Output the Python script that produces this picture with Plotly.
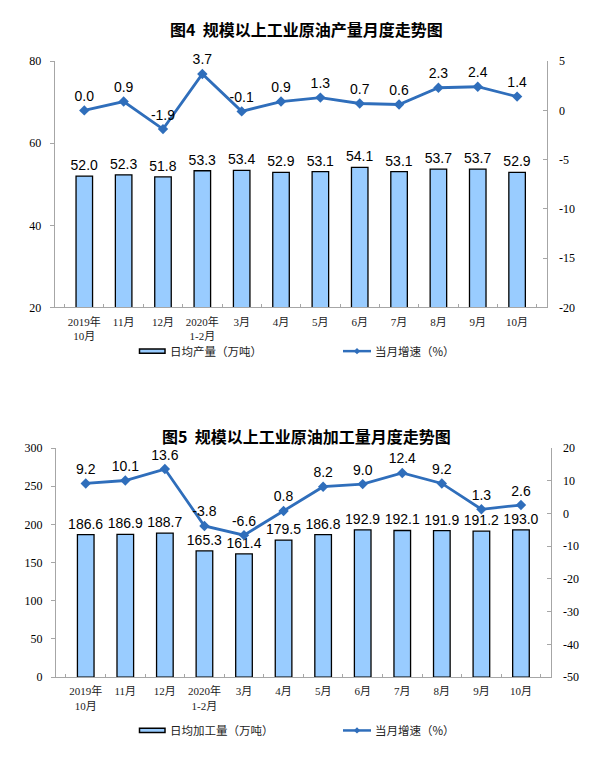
import plotly.graph_objects as go

# ---------------- data ----------------
categories = ["2019年<br>10月", "11月", "12月", "2020年<br>1-2月", "3月", "4月",
              "5月", "6月", "7月", "8月", "9月", "10月"]

crude_output = [52.0, 52.3, 51.8, 53.3, 53.4, 52.9, 53.1, 54.1, 53.1, 53.7, 53.7, 52.9]
crude_output_growth = [0.0, 0.9, -1.9, 3.7, -0.1, 0.9, 1.3, 0.7, 0.6, 2.3, 2.4, 1.4]

crude_processing = [186.6, 186.9, 188.7, 165.3, 161.4, 179.5, 186.8, 192.9, 192.1, 191.9, 191.2, 193.0]
crude_processing_growth = [9.2, 10.1, 13.6, -3.8, -6.6, 0.8, 8.2, 9.0, 12.4, 9.2, 1.3, 2.6]

left1_ticks = [20, 40, 60, 80]
right1_ticks = [-20, -15, -10, -5, 0, 5]
right1_labels = ["-20", "-15", "-10", "-5", "0", "5"]
left2_ticks = [0, 50, 100, 150, 200, 250, 300]
right2_ticks = [-50, -40, -30, -20, -10, 0, 10, 20]
right2_labels = ["-50", "-40", "-30", "-20", "-10", "0", "10", "20"]

titles = ["图4  规模以上工业原油产量月度走势图", "图5  规模以上工业原油加工量月度走势图"]
legend_bar = ["日均产量（万吨）", "日均加工量（万吨）"]
legend_line = "当月增速（%）"

# ---------------- style ----------------
# page body has an 8px default margin; compensate so the figure fills the window
OFF = 8
W, H = 607 - OFF, 761 - OFF
BAR_FILL = "#99CCFF"
LINE_COL = "#2F6EBB"
AXIS_COL = "#A6A6A6"
SANS = "Liberation Sans"
SERIF = "Liberation Serif"
CJK = "Noto Sans CJK SC"
XLAB = "Liberation Serif, Noto Sans CJK SC"


def px_x(x):
    return (x - OFF) / W


def px_y(y):
    return 1 - (y - OFF) / H


fig = go.Figure()


def add_chart(bars, growth, xa, ya, ya2):
    fig.add_trace(go.Bar(
        x=categories, y=bars, xaxis=xa, yaxis=ya,
        marker=dict(color=BAR_FILL, line=dict(color="#000000", width=1.3)),
        width=0.42,
        text=[f"{v:.1f}" for v in bars], textposition="outside",
        constraintext="none",
        textfont=dict(family=SANS, size=14, color="#000000"),
        cliponaxis=False, showlegend=False, hoverinfo="skip"))
    fig.add_trace(go.Scatter(
        x=categories, y=growth, xaxis=xa, yaxis=ya2,
        mode="lines+markers+text",
        line=dict(color=LINE_COL, width=2.8),
        marker=dict(symbol="diamond", size=8, color=LINE_COL),
        text=[f"{v:.1f}" for v in growth], textposition="top center",
        textfont=dict(family=SANS, size=14, color="#000000"),
        cliponaxis=False, showlegend=False, hoverinfo="skip"))


add_chart(crude_output, crude_output_growth, "x", "y", "y2")
add_chart(crude_processing, crude_processing_growth, "x2", "y3", "y4")

xcommon = dict(
    type="category", showline=True, linecolor=AXIS_COL, linewidth=1,
    ticks="inside", tickson="boundaries", ticklen=3, tickcolor=AXIS_COL,
    tickangle=0,
    tickfont=dict(family=XLAB, size=11, color="#222222"),
    showgrid=False, zeroline=False, fixedrange=True,
)
ycommon = dict(
    showline=True, linecolor=AXIS_COL, linewidth=1, ticklen=4, tickcolor=AXIS_COL,
    tickfont=dict(family=SERIF, size=12, color="#000000"),
    showgrid=False, zeroline=False, fixedrange=True,
)

d1x = [px_x(54.7), px_x(546.7)]
d1y = [px_y(306), px_y(55)]
d2x = [px_x(56), px_x(550.7)]
d2y = [px_y(682.7), px_y(449.3)]

fig.update_layout(
    width=W, height=H,
    margin=dict(l=0, r=0, t=0, b=0),
    paper_bgcolor="white", plot_bgcolor="white",
    bargap=0.58,
    xaxis=dict(domain=d1x, anchor="y", ticklabelstandoff=4, **xcommon),
    yaxis=dict(domain=d1y, anchor="x", range=[20, 80], tickvals=left1_ticks,
               ticks="outside", ticklabelstandoff=6, **ycommon),
    yaxis2=dict(overlaying="y", side="right", anchor="x", range=[-20, 5],
                tickvals=right1_ticks, ticktext=right1_labels,
                ticks="inside", ticklabelstandoff=9, **ycommon),
    xaxis2=dict(domain=d2x, anchor="y3", ticklabelstandoff=4, **xcommon),
    yaxis3=dict(domain=d2y, anchor="x2", range=[0, 300], tickvals=left2_ticks,
                ticks="outside", ticklabelstandoff=6, **ycommon),
    yaxis4=dict(overlaying="y3", side="right", anchor="x2", range=[-50, 20],
                tickvals=right2_ticks, ticktext=right2_labels,
                ticks="inside", ticklabelstandoff=9, **ycommon),
)

annotations = []
shapes = []
title_pos = [(306, 22), (306, 437)]
legend_y = [350.5, 737]
for i in range(2):
    tx, ty = title_pos[i]
    annotations.append(dict(
        xref="paper", yref="paper", x=px_x(tx), y=px_y(ty),
        xanchor="center", yanchor="middle", showarrow=False,
        text=f"<b>{titles[i]}</b>",
        font=dict(family=CJK, size=16, color="#000000")))
    ly = legend_y[i]
    # bar swatch
    shapes.append(dict(type="rect", xref="paper", yref="paper",
                       x0=px_x(139.5), x1=px_x(165), y0=px_y(ly + 2.2), y1=px_y(ly - 2.2),
                       fillcolor=BAR_FILL, line=dict(color="#000000", width=1.5)))
    annotations.append(dict(
        xref="paper", yref="paper", x=px_x(168), y=px_y(ly),
        xanchor="left", yanchor="middle", showarrow=False, text=legend_bar[i],
        font=dict(family=CJK, size=11.5, color="#222222")))
    # line swatch
    shapes.append(dict(type="line", xref="paper", yref="paper",
                       x0=px_x(343), x1=px_x(371), y0=px_y(ly), y1=px_y(ly),
                       line=dict(color=LINE_COL, width=2.5)))
    cx, cy, r = 357, ly, 3.2
    shapes.append(dict(type="path", xref="paper", yref="paper",
                       path=(f"M {px_x(cx - r)} {px_y(cy)} L {px_x(cx)} {px_y(cy - r)} "
                             f"L {px_x(cx + r)} {px_y(cy)} L {px_x(cx)} {px_y(cy + r)} Z"),
                       fillcolor=LINE_COL, line=dict(color=LINE_COL, width=0)))
    annotations.append(dict(
        xref="paper", yref="paper", x=px_x(373), y=px_y(ly),
        xanchor="left", yanchor="middle", showarrow=False, text=legend_line,
        font=dict(family=CJK, size=11.5, color="#222222")))

fig.update_layout(annotations=annotations, shapes=shapes)

fig.write_html("out.html", config={"displayModeBar": False})
